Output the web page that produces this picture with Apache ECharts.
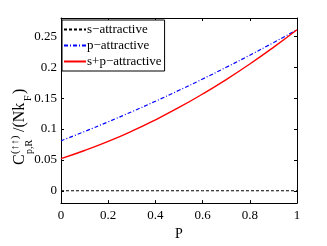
<!DOCTYPE html>
<html>
<head>
<meta charset="utf-8">
<script src="https://cdn.jsdelivr.net/npm/echarts@6/dist/echarts.min.js"></script>
<style>
html,body{margin:0;padding:0;background:#fff;}
#c{width:327px;height:246px;}
</style>
</head>
<body>
<div id="c"></div>
<script>
// Data
const pValues = [0, 0.1, 0.2, 0.3, 0.4, 0.5, 0.6, 0.7, 0.8, 0.9, 1.0];
const sAttractive = [0, 0, 0, 0, 0, 0, 0, 0, 0, 0, 0];
const pAttractive = [0.081, 0.096, 0.1117, 0.1281, 0.1451, 0.1628, 0.1811, 0.2001, 0.2197, 0.2400, 0.261];
const spAttractive = [0.052, 0.0652, 0.0800, 0.0966, 0.1150, 0.1350, 0.1568, 0.1802, 0.2054, 0.2324, 0.261];
const seriesNames = ['s\u2212attractive', 'p\u2212attractive', 's+p\u2212attractive'];
const xTicks = [0, 0.2, 0.4, 0.6, 0.8, 1];
const yTicks = [0, 0.05, 0.1, 0.15, 0.2, 0.25];

const FONT = 'Liberation Serif, DejaVu Serif, serif';
const pair = (ys) => pValues.map((p, i) => [p, ys[i]]);

const chart = echarts.init(document.getElementById('c'), null, {renderer: 'canvas'});
const tickStyle = {show: true, inside: true, length: 3, lineStyle: {color: '#000', width: 1}};
const lineAx = {show: true, onZero: false, lineStyle: {color: '#000', width: 1}};

chart.setOption({
  animation: false,
  backgroundColor: '#fff',
  grid: {left: 61, right: 30, top: 18, bottom: 32, show: false},
  xAxis: [{
    type: 'value', min: 0, max: 1, interval: 0.2,
    axisLine: lineAx, axisTick: tickStyle, splitLine: {show: false},
    axisLabel: {color: '#000', fontFamily: FONT, fontSize: 13, margin: 6,
      customValues: xTicks, formatter: v => String(+v.toFixed(2))},
    name: 'P', nameLocation: 'middle', nameGap: 22,
    nameTextStyle: {color: '#000', fontFamily: FONT, fontSize: 14}
  }, {
    type: 'value', min: 0, max: 1, interval: 0.2, position: 'top',
    axisLine: lineAx, axisTick: tickStyle, axisLabel: {show: false}, splitLine: {show: false}
  }],
  yAxis: [{
    type: 'value', min: -0.02, max: 0.28,
    axisLine: lineAx,
    axisTick: Object.assign({}, tickStyle, {customValues: yTicks}),
    splitLine: {show: false},
    axisLabel: {color: '#000', fontFamily: FONT, fontSize: 13, margin: 4,
      customValues: yTicks, formatter: v => String(+v.toFixed(2))}
  }, {
    type: 'value', min: -0.02, max: 0.28, position: 'right',
    axisLine: lineAx,
    axisTick: Object.assign({}, tickStyle, {customValues: yTicks}),
    axisLabel: {show: false}, splitLine: {show: false}
  }],
  legend: {
    orient: 'vertical', left: 62, top: 20,
    backgroundColor: '#fff', borderColor: '#000', borderWidth: 1,
    padding: [3, 3, 3, 1], itemGap: 3, itemWidth: 22, itemHeight: 12,
    itemStyle: {opacity: 0},
    textStyle: {color: '#000', fontFamily: FONT, fontSize: 13, padding: [0, 0, 0, -4]},
    data: seriesNames
  },
  series: [{
    name: seriesNames[0], type: 'line', data: pair(sAttractive), symbol: 'none',
    lineStyle: {color: '#000', width: 1, type: [3, 2]}, itemStyle: {color: '#000'}
  }, {
    name: seriesNames[1], type: 'line', data: pair(pAttractive), symbol: 'none', smooth: true,
    lineStyle: {color: '#0000ff', width: 1.2, type: [4, 2, 1, 2]}, itemStyle: {color: '#0000ff'}
  }, {
    name: seriesNames[2], type: 'line', data: pair(spAttractive), symbol: 'none', smooth: true,
    lineStyle: {color: '#ff0000', width: 1.4}, itemStyle: {color: '#ff0000'}
  }],
  graphic: [{
    type: 'group', x: 25, y: 165, rotation: Math.PI / 2,
    children: [
      {type: 'text', x: 0, y: -5, style: {text: 'C', fontFamily: FONT, fontSize: 16, fill: '#000', verticalAlign: 'middle'}},
      {type: 'text', x: 11, y: -10, style: {text: '(\u2191\u2191)', fontFamily: FONT, fontSize: 11, fill: '#000', verticalAlign: 'middle'}},
      {type: 'text', x: 11, y: 4, style: {text: 'p,R', fontFamily: FONT, fontSize: 10, fill: '#000', verticalAlign: 'middle'}},
      {type: 'text', x: 33, y: -5, style: {text: '/(Nk', fontFamily: FONT, fontSize: 16, fill: '#000', verticalAlign: 'middle'}},
      {type: 'text', x: 64, y: 3, style: {text: 'F', fontFamily: FONT, fontSize: 10, fill: '#000', verticalAlign: 'middle'}},
      {type: 'text', x: 71, y: -5, style: {text: ')', fontFamily: FONT, fontSize: 16, fill: '#000', verticalAlign: 'middle'}}
    ]
  }]
});
</script>
</body>
</html>
